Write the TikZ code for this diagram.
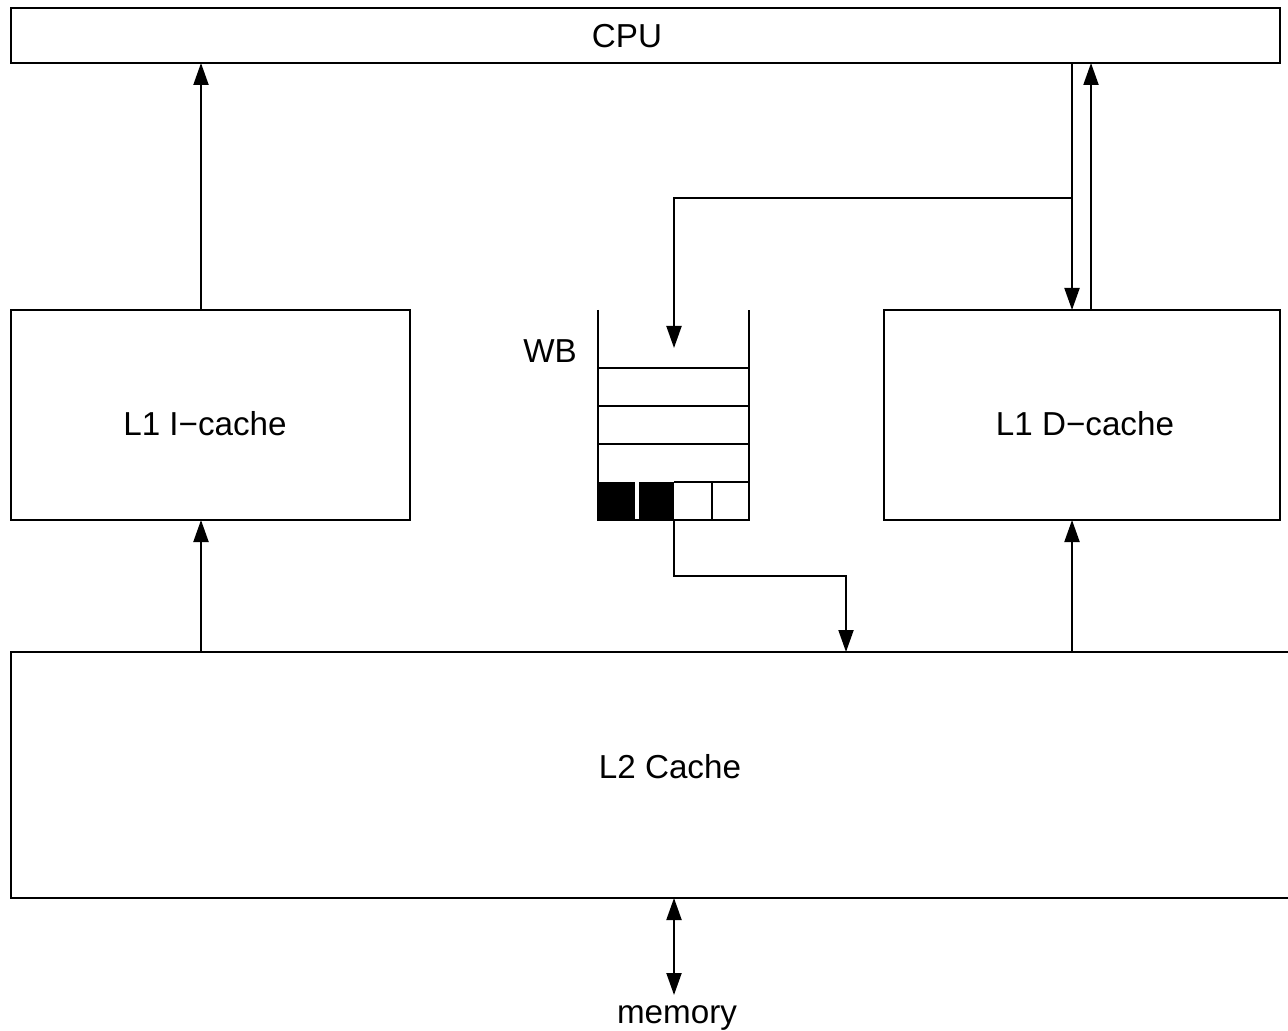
\documentclass[tikz,border=0pt]{standalone}
\usepackage{fontspec}
\setmainfont{Liberation Sans}
\usetikzlibrary{arrows.meta}
\begin{document}
\begin{tikzpicture}[x=0.5pt,y=-0.5pt,
  box/.style={draw, line width=1.1pt, inner sep=0pt, outer sep=0pt},
  lbl/.style={inner sep=0pt, anchor=base, font=\fontsize{16.6}{20}\selectfont},
  conn/.style={line width=1pt},
  arr/.style={conn, -{Triangle[length=11pt,width=7.5pt]}},
  arrboth/.style={conn, {Triangle[length=11pt,width=7.5pt]}-{Triangle[length=11pt,width=7.5pt]}}]
\useasboundingbox (0,0) rectangle (1288,1031);
\clip (0,0) rectangle (1288,1031);
% boxes
\node[box, minimum width=634.5pt, minimum height=27.5pt] (cpu) at (645.5,35.5) {};
\node[box, minimum width=199.5pt, minimum height=105pt] (l1i) at (210.5,415) {};
\node[box, minimum width=198pt, minimum height=105pt] (l1d) at (1082,415) {};
\node[box, minimum width=659.5pt, minimum height=123pt] (l2) at (670.5,775) {};
% texts
\node[lbl] (tcpu) at (627,48) {CPU};
\node[lbl] (tl1i) at (205,436) {L1 I−cache};
\node[lbl] (tl1d) at (1085,436) {L1 D−cache};
\node[lbl] (tl2) at (670,778) {L2 Cache};
\node[lbl] (twb) at (550,363) {WB};
\node[lbl] (mem) at (677,1023) {memory};
% write buffer
\fill (598,482) rectangle (635,520);
\fill (639,482) rectangle (674,520);
\draw[conn] (598,310) -- (598,520) -- (749,520) -- (749,310);
\draw[conn] (598,368) -- (749,368);
\draw[conn] (598,406) -- (749,406);
\draw[conn] (598,444) -- (749,444);
\draw[conn] (674,482) -- (749,482);
\draw[conn] (712,482) -- (712,520);
\coordinate (wbin) at (674,348);
\coordinate (wbout) at (674,520);
% x positions
\coordinate (xa) at (201,0);
\coordinate (xd) at (1072,0);
\coordinate (xu) at (1091,0);
\coordinate (xw) at (674,0);
\coordinate (br) at (1072,198);
\coordinate (wbturn) at (846,576);
% connectors
\draw[arr] (l1i.north -| xa) -- (cpu.south -| xa);
\draw[arr] (l2.north -| xa) -- (l1i.south -| xa);
\draw[arr] (cpu.south -| xd) -- (l1d.north -| xd);
\draw[arr] (l1d.north -| xu) -- (cpu.south -| xu);
\draw[arr] (br) -| (wbin);
\draw[arr] (wbout) |- (wbturn) -- (l2.north -| wbturn);
\draw[arr] (l2.north -| xd) -- (l1d.south -| xd);
\draw[arrboth] (l2.south -| xw) -- (xw |- 0,995);
\end{tikzpicture}
\end{document}
